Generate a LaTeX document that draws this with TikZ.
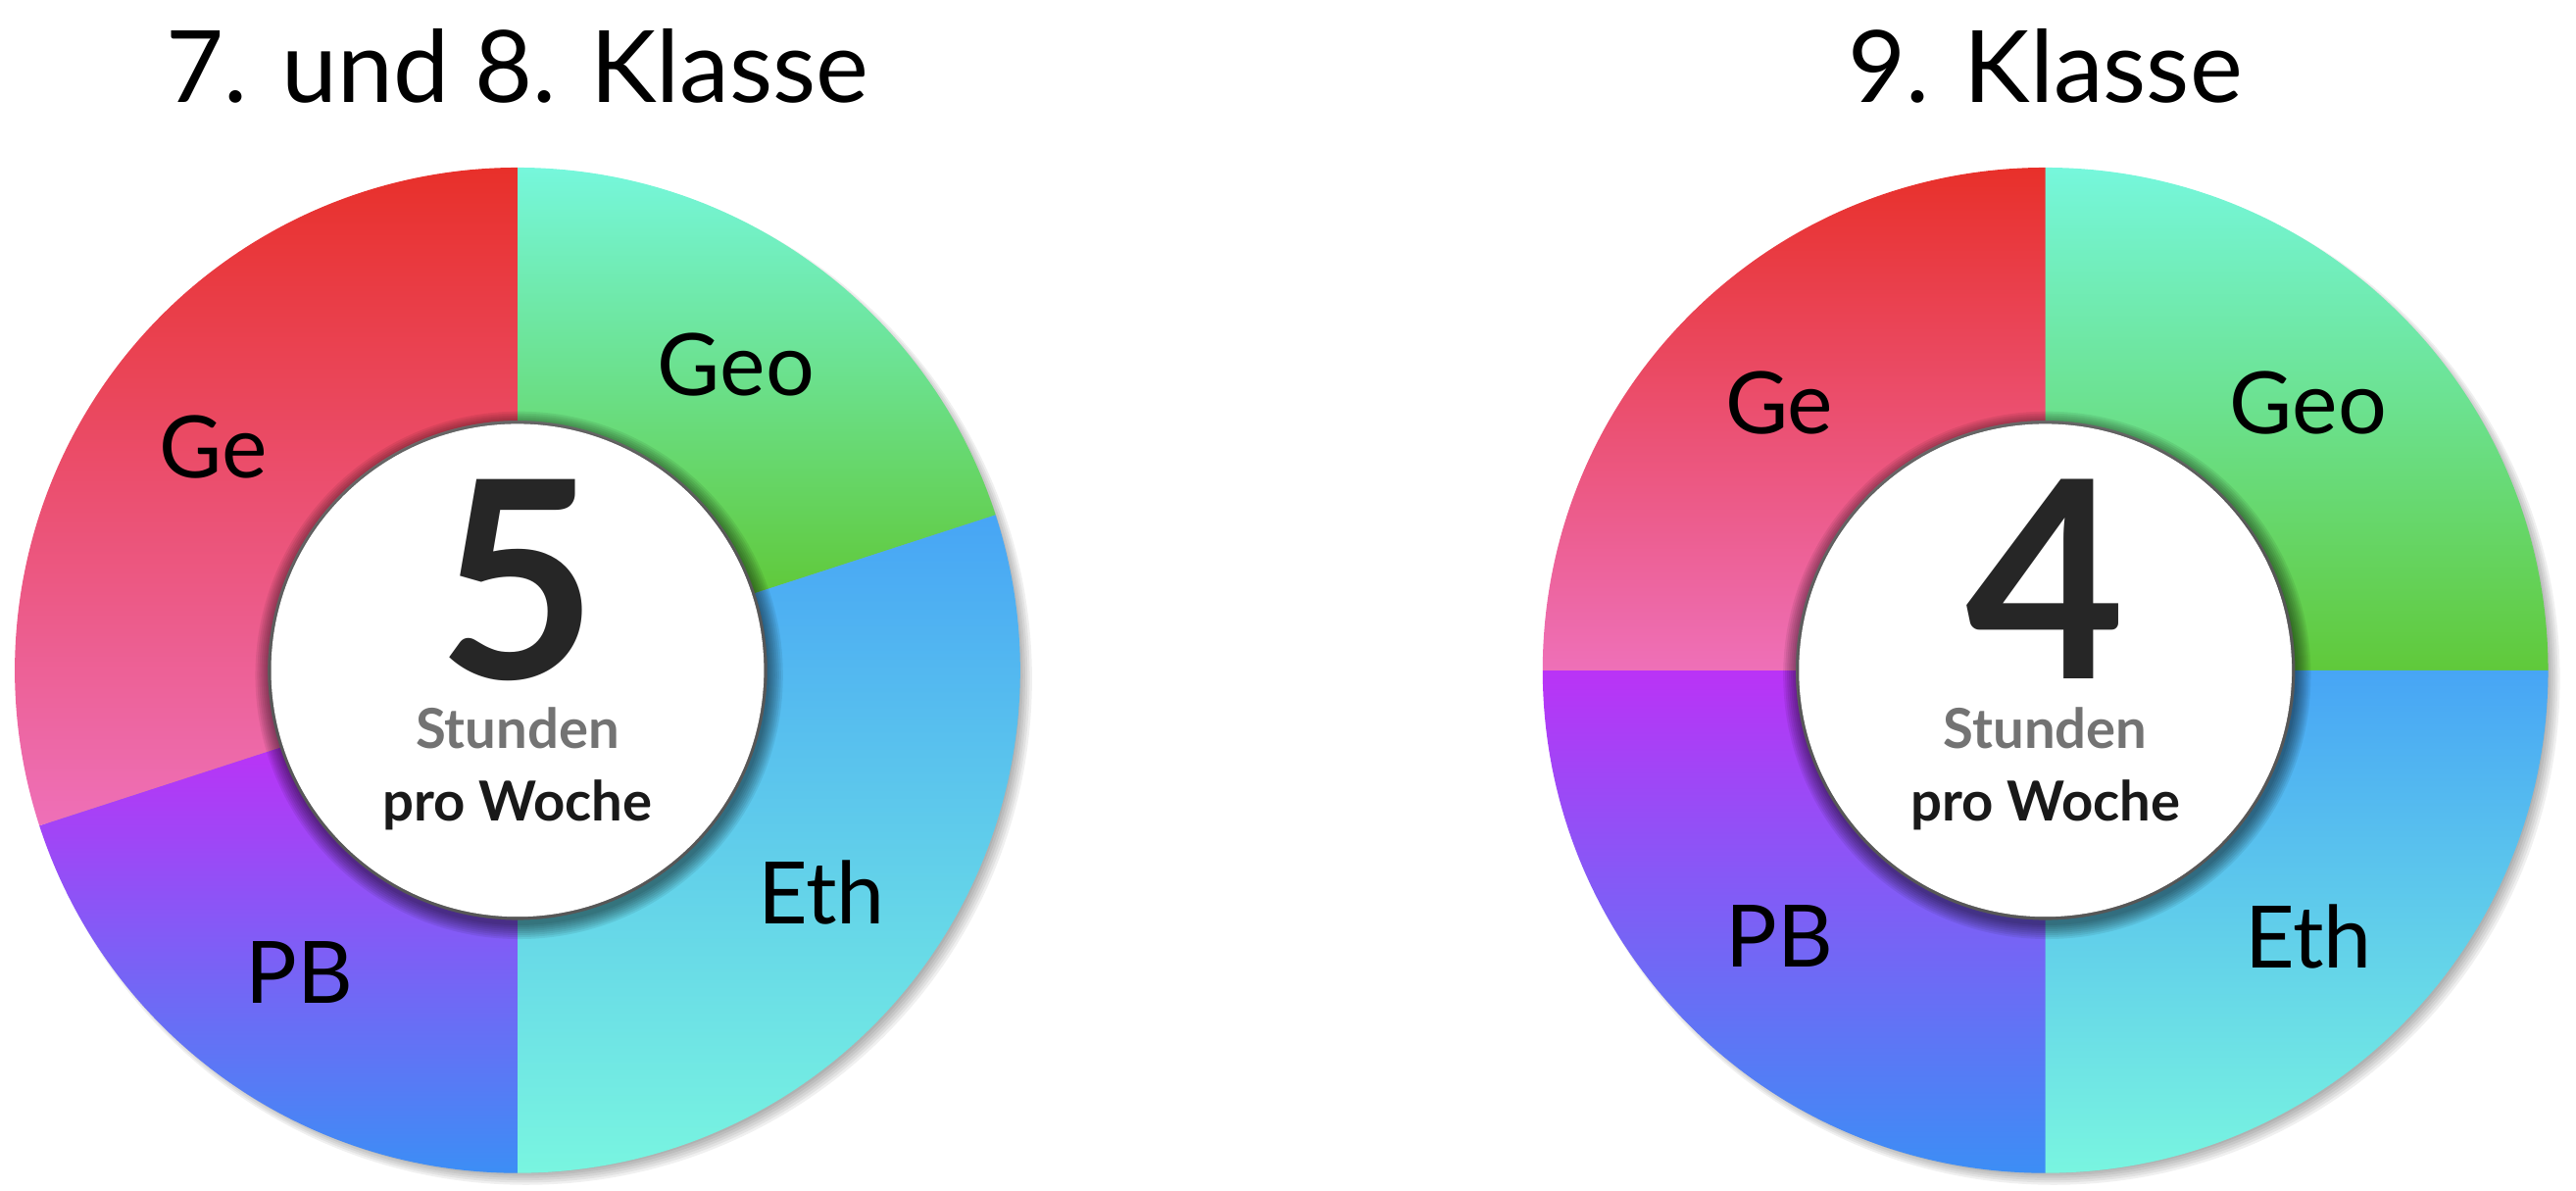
\documentclass[tikz,border=0pt]{standalone}
\usepackage{fontspec}
\setmainfont{Lato}
\begin{document}
\begin{tikzpicture}[x=0.01676cm,y=0.01676cm,
  lbl/.style={font=\fontsize{25}{28}\selectfont, text=black},
  ttl/.style={font=\fontsize{29}{34}\selectfont, text=black},
  num/.style={font=\fontsize{80}{84}\selectfont\bfseries, text=black!85, inner sep=0pt, text depth=0pt, anchor=base},
  stu/.style={font=\fontsize{16}{18}\selectfont\bfseries, text=black!55, inner sep=1pt},
  pro/.style={font=\fontsize{16}{18}\selectfont\bfseries, text=black!90, inner sep=1pt}]
\useasboundingbox (0,0) rectangle (1568,-724.4);
\definecolor{gered}{HTML}{E8302A}\definecolor{gepink}{HTML}{EE70B8}
\definecolor{geotop}{HTML}{76F7DC}\definecolor{geobot}{HTML}{60C93A}
\definecolor{ethtop}{HTML}{47A5F5}\definecolor{ethbot}{HTML}{79F5E0}
\definecolor{pbtop}{HTML}{BA33F6}\definecolor{pbbot}{HTML}{3C8EF5}
\newcommand{\seg}[6]{% cx cy a1 a2 top bottom
  \shade[top color=#5,bottom color=#6] ([shift={(#3:306)}]#1,#2) arc[start angle=#3,end angle=#4,radius=306] -- ([shift={(#4:152)}]#1,#2) arc[start angle=#4,end angle=#3,radius=152] -- cycle;}
\newcommand{\ringshadow}[2]{%
  \foreach \i in {1,...,8}{\fill[black,opacity=0.06] (#1+2+0.4*\i,#2-2-0.4*\i) circle[radius=300+\i];}}
\newcommand{\innershadow}[2]{%
  \foreach \i in {1,...,8}{\fill[black,opacity=0.07] (#1+1,#2-3) circle[radius=151+1.2*\i];}}
% left
\ringshadow{315}{-408}
\seg{315}{-408}{18}{90}{geotop}{geobot}
\seg{315}{-408}{-90}{18}{ethtop}{ethbot}
\seg{315}{-408}{198}{270}{pbtop}{pbbot}
\seg{315}{-408}{90}{198}{gered}{gepink}
\innershadow{315}{-408}
\fill[white] (315,-408) circle[radius=150];
% right
\ringshadow{1245}{-408}
\seg{1245}{-408}{0}{90}{geotop}{geobot}
\seg{1245}{-408}{-90}{0}{ethtop}{ethbot}
\seg{1245}{-408}{180}{270}{pbtop}{pbbot}
\seg{1245}{-408}{90}{180}{gered}{gepink}
\innershadow{1245}{-408}
\fill[white] (1245,-408) circle[radius=150];
% texts
\node[ttl] (t1) at (315,-40) {7. und 8. Klasse};
\node[ttl] (t2) at (1245,-40) {9. Klasse};
\node[lbl] (lge) at (130,-272) {Ge};
\node[lbl] (lgeo) at (448,-222) {Geo};
\node[lbl] (leth) at (500,-543) {Eth};
\node[lbl] (lpb) at (182,-592) {PB};
\node[lbl] (rge) at (1083,-245) {Ge};
\node[lbl] (rgeo) at (1405,-245) {Geo};
\node[lbl] (reth) at (1405,-570) {Eth};
\node[lbl] (rpb) at (1083,-570) {PB};
\node[num] (n1) at (315,-413) {5};
\node[num] (n2) at (1245,-413) {4};
\node[stu] (s1) at (315,-443) {Stunden};
\node[pro] (p1) at (315,-490) {pro Woche};
\node[stu] (s2) at (1245,-443) {Stunden};
\node[pro] (p2) at (1245,-490) {pro Woche};
\end{tikzpicture}
\end{document}
